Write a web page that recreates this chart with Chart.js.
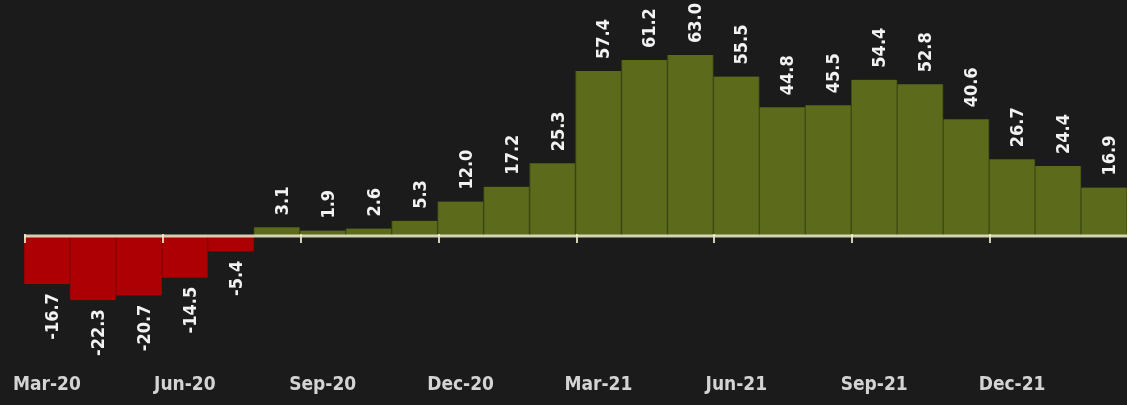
<!DOCTYPE html>
<html lang="en">
  <head>
    <meta charset="UTF-8" />
    <title>Monthly change</title>
    <script src="https://cdn.jsdelivr.net/npm/chart.js@4.4.1/dist/chart.umd.min.js"></script>
    <style>
      html,
      body {
        margin: 0;
        padding: 0;
        background-color: #1b1b1b;
        overflow: hidden;
      }

      #chart-container {
        width: 1127px;
        height: 405px;
      }
    </style>
  </head>
  <body>
    <div id="chart-container">
      <canvas id="changeChart"></canvas>
    </div>

    <script>
      const months = [
        "Mar-20", "Apr-20", "May-20", "Jun-20", "Jul-20", "Aug-20",
        "Sep-20", "Oct-20", "Nov-20", "Dec-20", "Jan-21", "Feb-21",
        "Mar-21", "Apr-21", "May-21", "Jun-21", "Jul-21", "Aug-21",
        "Sep-21", "Oct-21", "Nov-21", "Dec-21", "Jan-22", "Feb-22",
      ];
      const values = [
        -16.7, -22.3, -20.7, -14.5, -5.4, 3.1, 1.9, 2.6, 5.3, 12.0, 17.2, 25.3,
        57.4, 61.2, 63.0, 55.5, 44.8, 45.5, 54.4, 52.8, 40.6, 26.7, 24.4, 16.9,
      ];
      const tickEvery = 3; // a label every quarter

      const fontFamily = '"DejaVu Sans Condensed", "DejaVu Sans", sans-serif';
      const labelFont = "bold 18px " + fontFamily;

      // zero line with small quarter ticks, drawn over the bars
      const zeroLine = {
        id: "zeroLine",
        afterDatasetsDraw(chart) {
          const ctx = chart.ctx;
          const x = chart.scales.x;
          const y0 = chart.scales.y.getPixelForValue(0);
          const half = x.width / months.length / 2;
          ctx.save();
          ctx.strokeStyle = "rgba(238, 238, 205, 0.85)";
          ctx.lineWidth = 3;
          ctx.beginPath();
          ctx.moveTo(chart.chartArea.left, y0);
          ctx.lineTo(chart.chartArea.right, y0);
          ctx.stroke();
          ctx.lineWidth = 2;
          for (let i = 0; i < months.length; i += tickEvery) {
            const tx = Math.round(x.getPixelForValue(i) - half) + 1;
            ctx.beginPath();
            ctx.moveTo(tx, y0 - 2);
            ctx.lineTo(tx, y0 + 7);
            ctx.stroke();
          }
          ctx.restore();
        },
      };

      // rotated value labels above / below each bar
      const barValues = {
        id: "barValues",
        afterDatasetsDraw(chart) {
          const ctx = chart.ctx;
          const meta = chart.getDatasetMeta(0);
          ctx.save();
          ctx.font = labelFont;
          ctx.fillStyle = "#f2f2f2";
          ctx.textBaseline = "alphabetic";
          meta.data.forEach((bar, i) => {
            const v = values[i];
            const text = v.toFixed(1);
            ctx.save();
            ctx.translate(bar.x + 11, v >= 0 ? bar.y - 12 : bar.y + 9);
            ctx.rotate(-Math.PI / 2);
            ctx.textAlign = v >= 0 ? "left" : "right";
            ctx.fillText(text, 0, 0);
            ctx.restore();
          });
          ctx.restore();
        },
      };

      const ctx = document.getElementById("changeChart").getContext("2d");
      new Chart(ctx, {
        type: "bar",
        data: {
          labels: months,
          datasets: [
            {
              data: values,
              backgroundColor: values.map((v) => (v < 0 ? "#ad0004" : "#5b6a1b")),
              borderColor: values.map((v) => (v < 0 ? "#8a0003" : "#3f4b10")),
              borderWidth: { left: 1, right: 1, top: 0, bottom: 0 },
              borderSkipped: false,
              barPercentage: 1,
              categoryPercentage: 1,
            },
          ],
        },
        options: {
          responsive: true,
          maintainAspectRatio: false,
          animation: false,
          layout: {
            padding: { left: 24, right: 0, top: 0, bottom: 4 },
          },
          plugins: {
            legend: { display: false },
            tooltip: { enabled: false },
          },
          scales: {
            x: {
              grid: { display: false },
              border: { display: false },
              ticks: {
                autoSkip: false,
                maxRotation: 0,
                color: "#d4d4d4",
                padding: 3,
                font: { family: fontFamily, size: 19, weight: "bold", lineHeight: "26.4px" },
                callback: function (value, index) {
                  return index % tickEvery === 0 ? this.getLabelForValue(value) : null;
                },
              },
            },
            y: {
              display: false,
              min: -43.3,
              max: 82.1,
            },
          },
        },
        plugins: [zeroLine, barValues],
      });
    </script>
  </body>
</html>
